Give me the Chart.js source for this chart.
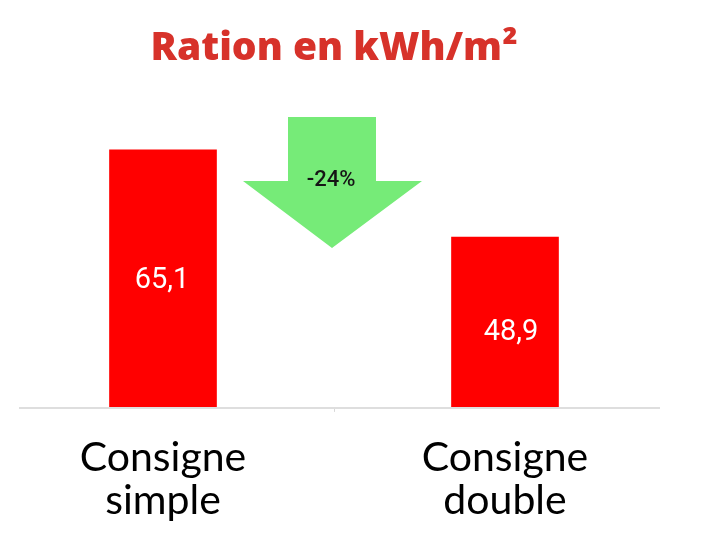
<!DOCTYPE html>
<html>
<head>
<meta charset="utf-8">
<script src="https://cdn.jsdelivr.net/npm/chart.js@4"></script>
<style>
  html, body { margin: 0; padding: 0; background: #ffffff; overflow: hidden; }
  #wrap { position: absolute; left: -8px; top: 0; width: 684px; height: 558px; }
</style>
</head>
<body>
<div id="wrap"><canvas id="c"></canvas></div>
<script>
const categories = [["Consigne", "simple"], ["Consigne", "double"]];
const values = [65.1, 48.9];
const changeLabel = "-24%";
const titleText = "Ration en kWh/m²";

const fmt = v => v.toFixed(1).replace('.', ',');

const decorPlugin = {
  id: 'decor',
  beforeDatasetsDraw(chart) {
    const { ctx, chartArea } = chart;
    const y = chartArea.bottom;
    ctx.save();
    ctx.strokeStyle = '#dedede';
    ctx.lineWidth = 2;
    ctx.beginPath();
    ctx.moveTo(chartArea.left + 27, y + 1);
    ctx.lineTo(chartArea.right - 16, y + 1);
    ctx.stroke();
    ctx.restore();
  },
  afterDatasetsDraw(chart) {
    const { ctx, chartArea } = chart;
    const meta = chart.getDatasetMeta(0);
    const labelShift = [[-1, 2], [6, 11]];
    ctx.save();
    ctx.fillStyle = '#ffffff';
    ctx.font = '29px Roboto';
    ctx.textAlign = 'center';
    ctx.textBaseline = 'middle';
    meta.data.forEach((bar, i) => {
      const mid = (bar.y + chartArea.bottom) / 2;
      ctx.fillText(fmt(values[i]), bar.x + labelShift[i][0], mid + labelShift[i][1]);
    });
    // arrow between the two bars
    const cx = (meta.data[0].x + meta.data[1].x) / 2 - 2;
    ctx.fillStyle = '#76eb78';
    ctx.beginPath();
    ctx.moveTo(cx - 44, 117);
    ctx.lineTo(cx + 44, 117);
    ctx.lineTo(cx + 44, 181);
    ctx.lineTo(cx + 90, 181);
    ctx.lineTo(cx, 248);
    ctx.lineTo(cx - 89, 181);
    ctx.lineTo(cx - 44, 181);
    ctx.closePath();
    ctx.fill();
    ctx.fillStyle = '#151515';
    ctx.font = '500 22px Roboto';
    ctx.fillText(changeLabel, cx - 1, 180);
    ctx.restore();
  }
};

new Chart(document.getElementById('c'), {
  type: 'bar',
  data: {
    labels: categories,
    datasets: [{
      data: values,
      backgroundColor: '#ff0000',
      borderWidth: 0,
      barThickness: 107
    }]
  },
  options: {
    responsive: true,
    maintainAspectRatio: false,
    animation: false,
    layout: { padding: { left: 0, right: 0, top: 0, bottom: 12 } },
    plugins: {
      legend: { display: false },
      tooltip: { enabled: false },
      title: {
        display: true,
        text: titleText,
        color: '#d7322a',
        font: { family: 'Open Sans', weight: 800, size: 39, lineHeight: 1.2 },
        padding: { top: 25, bottom: 28 }
      }
    },
    scales: {
      x: {
        offset: true,
        border: { display: false },
        grid: {
          offset: true,
          drawOnChartArea: false,
          drawTicks: true,
          tickLength: 5,
          color: c => c.index === 1 ? '#d8d8d8' : 'rgba(0,0,0,0)'
        },
        ticks: {
          color: '#000000',
          padding: 24,
          maxRotation: 0,
          autoSkip: false,
          font: { family: 'Lato', size: 41, lineHeight: 1.05 }
        }
      },
      y: {
        display: false,
        min: 17.4,
        max: 74.4
      }
    }
  },
  plugins: [decorPlugin]
});
</script>
</body>
</html>
